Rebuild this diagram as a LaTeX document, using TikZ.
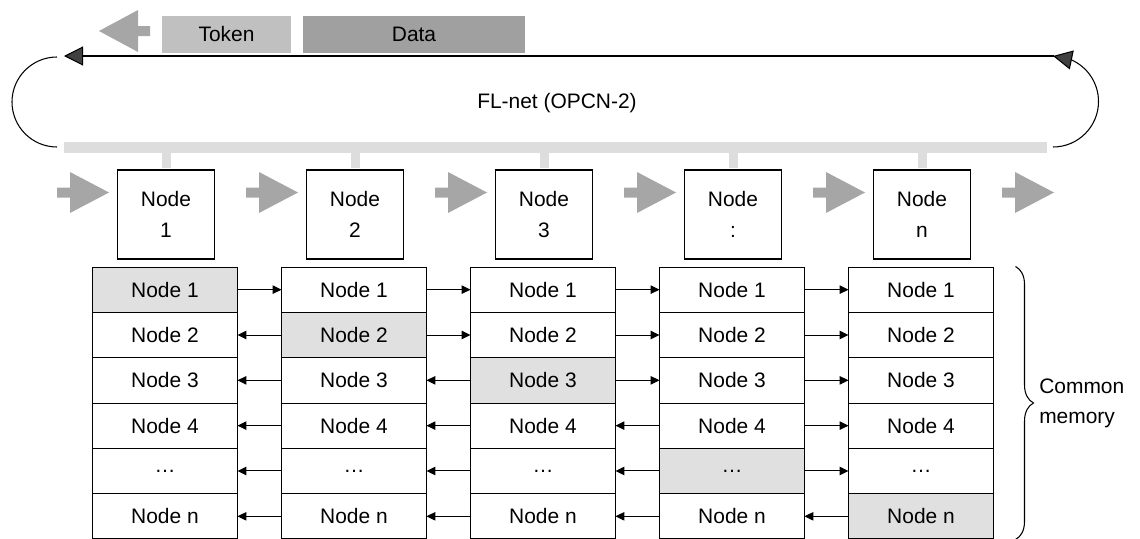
\documentclass[tikz,border=0pt]{standalone}
\usepackage{fontspec}
\setmainfont{Liberation Sans}
\usetikzlibrary{arrows.meta, bending, decorations.pathreplacing}
\definecolor{grisToken}{HTML}{C0C0C0}
\definecolor{grisData}{HTML}{A0A0A0}
\definecolor{grisFlecha}{HTML}{A6A6A6}
\definecolor{grisBus}{HTML}{DDDDDD}
\definecolor{grisCelda}{HTML}{E0E0E0}
\definecolor{grisPunta}{HTML}{404040}

\begin{document}
\begin{tikzpicture}[x=0.025cm, y=-0.025cm, font=\fontsize{14.9}{21.5}\selectfont, >=Latex,
        station/.style={draw, line width=1.1pt, minimum width=2.425cm, minimum height=2.225cm,
            inner sep=0pt, align=center},
        cell/.style={draw, line width=0.7pt, minimum width=3.6cm, minimum height=1.133cm, inner sep=0pt},
        band/.style={minimum height=0.925cm, inner sep=0pt},
        bus/.style={draw=grisBus, line width=0.25cm},
        stub/.style={draw=grisBus, line width=0.225cm, shorten <=0.55pt},
        ringline/.style={line width=0.75pt, -{Triangle[length=0.48cm, width=0.48cm, fill=grisPunta]}},
        memarr/.style={line width=0.7pt, -{Triangle[length=0.22cm, width=0.21cm]}},
        blockarr/.style={fill=grisFlecha},
        llave/.style={decorate, decoration={brace, amplitude=0.45cm}, line width=0.75pt}]
        \useasboundingbox (0,0) rectangle (1140,539);
        \fill[blockarr] (99,31) -- ++(39,-21) -- ++(0,16) -- ++(12,0) -- ++(0,10) -- ++(-12,0) -- ++(0,16) -- cycle;
        \node[band, fill=grisToken, minimum width=3.225cm] (tok) at (226.5,34.5) {Token};
        \node[band, fill=grisData, minimum width=5.55cm] (dat) at (414,34.5) {Data};
        \coordinate (ringR) at (1054,56);
        \coordinate (ringL) at (64,56);
        \coordinate (busL) at (64,147.5);
        \coordinate (busR) at (1047,147.5);
        \draw[ringline] (ringR) -- (ringL);
        \draw[line width=0.75pt] (57,57) arc[start angle=270, end angle=90, radius=45];
        \draw[ringline] (1053,147) arc[start angle=90, end angle=-90, radius=45.5];
        \node (fl) at (557,103) {FL-net (OPCN-2)};
        \draw[bus] (busL) -- (busR);
        \foreach \t [count=\i] in {1,2,3,:,n} \node[station] (st\i) at ({166+189*(\i-1)},214.5) {Node\\\t};
        \foreach \i in {1,...,5} \draw[stub] (st\i.north) -- (st\i.north |- busL);
        \foreach \i in {0,...,5} \fill[blockarr] ({109+189*\i},192.5) -- ++(-39,-20.5) -- ++(0,15.5) -- ++(-13,0) -- ++(0,10) -- ++(13,0) -- ++(0,15.5) -- cycle;
        \foreach \c/\s in {1/1,2/2,3/3,4/5,5/6}
            \foreach \t [count=\r] in {Node 1,Node 2,Node 3,Node 4,…,Node n} {
                \ifnum\r=\s \def\relleno{grisCelda}\else\def\relleno{white}\fi
                \node[cell, fill=\relleno] (m\c-\r) at ({165+189*(\c-1)},{267+45.33*(\r-0.5)}) {\t};
            }
        \foreach \r/\s in {1/1,2/2,3/3,4/4,5/4,6/5}
            \foreach \g in {1,...,4} {
                \pgfmathtruncatemacro\h{\g+1}
                \ifnum\g<\s \draw[memarr] (m\h-\r) -- (m\g-\r);
                \else \draw[memarr] (m\g-\r) -- (m\h-\r); \fi
            }
        \draw[llave] ([xshift=0.55cm]m5-1.north east) -- ([xshift=0.55cm]m5-6.south east);
        \node[anchor=west, align=left, inner sep=0pt] (cm) at (1039,403) {Common\\memory};
    \end{tikzpicture}
\end{document}
